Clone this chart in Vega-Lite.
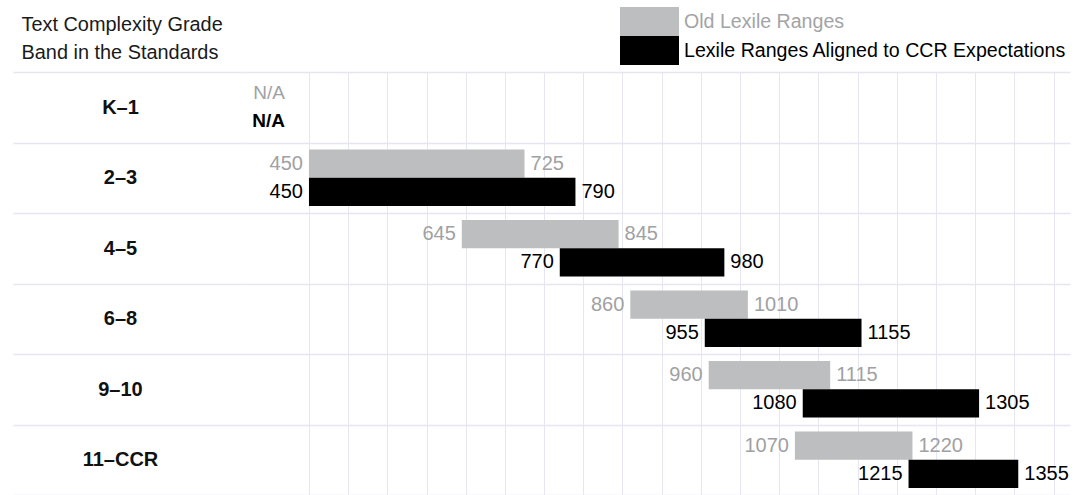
{
  "$schema": "https://vega.github.io/schema/vega-lite/v6.json",
  "autosize": {"type": "none"},
  "padding": {"left": 240, "top": 72, "right": 9, "bottom": 0},
  "width": 830,
  "height": 423,
  "background": "white",
  "config": {
    "view": {"stroke": null},
    "font": "Liberation Sans"
  },
  "data": {
    "values": [
      {"grade": "K–1", "series": "Old Lexile Ranges", "start": null, "end": null},
      {"grade": "K–1", "series": "Lexile Ranges Aligned to CCR Expectations", "start": null, "end": null},
      {"grade": "2–3", "series": "Old Lexile Ranges", "start": 450, "end": 725},
      {"grade": "2–3", "series": "Lexile Ranges Aligned to CCR Expectations", "start": 450, "end": 790},
      {"grade": "4–5", "series": "Old Lexile Ranges", "start": 645, "end": 845},
      {"grade": "4–5", "series": "Lexile Ranges Aligned to CCR Expectations", "start": 770, "end": 980},
      {"grade": "6–8", "series": "Old Lexile Ranges", "start": 860, "end": 1010},
      {"grade": "6–8", "series": "Lexile Ranges Aligned to CCR Expectations", "start": 955, "end": 1155},
      {"grade": "9–10", "series": "Old Lexile Ranges", "start": 960, "end": 1115},
      {"grade": "9–10", "series": "Lexile Ranges Aligned to CCR Expectations", "start": 1080, "end": 1305},
      {"grade": "11–CCR", "series": "Old Lexile Ranges", "start": 1070, "end": 1220},
      {"grade": "11–CCR", "series": "Lexile Ranges Aligned to CCR Expectations", "start": 1215, "end": 1355}
    ]
  },
  "encoding": {
    "y": {
      "field": "grade",
      "type": "nominal",
      "sort": null,
      "scale": {"domain": ["K–1", "2–3", "4–5", "6–8", "9–10", "11–CCR"], "paddingInner": 0, "paddingOuter": 0},
      "axis": {
        "title": ["Text Complexity Grade", "Band in the Standards"],
        "titleAngle": 0,
        "titleAlign": "left",
        "titleBaseline": "top",
        "titleX": -219,
        "titleY": -58,
        "titleFont": "Liberation Sans",
        "titleFontSize": 19.9,
        "titleFontWeight": "normal",
        "titleLineHeight": 28.5,
        "titleColor": "#1a1a1a",
        "domain": false,
        "tickBand": "extent",
        "tickSize": 227,
        "tickColor": "#e6e6f3",
        "tickWidth": 1.5,
        "grid": true,
        "gridColor": "#e6e6f3",
        "gridWidth": 1.5,
        "labelAlign": "center",
        "labelBaseline": "middle",
        "labelPadding": -107,
        "labelFont": "Liberation Sans",
        "labelFontSize": 20,
        "labelFontWeight": "bold",
        "labelColor": "#111111"
      }
    },
    "yOffset": {
      "field": "series",
      "type": "nominal",
      "sort": ["Old Lexile Ranges", "Lexile Ranges Aligned to CCR Expectations"],
      "scale": {"paddingInner": 0, "paddingOuter": 0.25}
    }
  },
  "layer": [
    {
      "mark": {"type": "bar"},
      "encoding": {
        "x": {
          "field": "start",
          "type": "quantitative",
          "scale": {"domain": [362, 1421], "nice": false, "zero": false},
          "axis": {
            "values": [450, 500, 550, 600, 650, 700, 750, 800, 850, 900, 950, 1000, 1050, 1100, 1150, 1200, 1250, 1300, 1350, 1400],
            "title": null,
            "labels": false,
            "ticks": false,
            "domain": false,
            "grid": true,
            "gridColor": "#e6e6f3",
            "gridWidth": 1
          }
        },
        "x2": {"field": "end"},
        "color": {
          "field": "series",
          "type": "nominal",
          "sort": ["Old Lexile Ranges", "Lexile Ranges Aligned to CCR Expectations"],
          "scale": {
            "domain": ["Old Lexile Ranges", "Lexile Ranges Aligned to CCR Expectations"],
            "range": ["#bdbec0", "#000000"]
          },
          "legend": {
            "title": null,
            "orient": "none",
            "legendX": 380,
            "legendY": -65,
            "symbolType": "M-1,-0.5H1V0.5H-1Z",
            "symbolSize": 3481,
            "symbolStrokeWidth": 0,
            "symbolOpacity": 1,
            "rowPadding": 0,
            "clipHeight": 29,
            "labelFont": "Liberation Sans",
            "labelFontSize": 19.6,
            "labelOffset": 5,
            "labelLimit": 600,
            "encode": {
              "labels": {
                "update": {
                  "fill": {"signal": "datum.value === 'Old Lexile Ranges' ? '#a3a4a6' : '#000000'"}
                }
              }
            }
          }
        }
      }
    },
    {
      "transform": [{"filter": "isValid(datum.start)"}],
      "mark": {"type": "text", "align": "right", "baseline": "middle", "dx": -6, "fontSize": 20, "font": "Liberation Sans"},
      "encoding": {
        "x": {"field": "start", "type": "quantitative"},
        "text": {"field": "start", "type": "quantitative", "format": "d"},
        "color": {
          "condition": {"test": "datum.series === 'Old Lexile Ranges'", "value": "#a0a1a3"},
          "value": "#000000"
        }
      }
    },
    {
      "transform": [{"filter": "isValid(datum.end)"}],
      "mark": {"type": "text", "align": "left", "baseline": "middle", "dx": 6, "fontSize": 20, "font": "Liberation Sans"},
      "encoding": {
        "x": {"field": "end", "type": "quantitative"},
        "text": {"field": "end", "type": "quantitative", "format": "d"},
        "color": {
          "condition": {"test": "datum.series === 'Old Lexile Ranges'", "value": "#a0a1a3"},
          "value": "#000000"
        }
      }
    },
    {
      "transform": [{"filter": "!isValid(datum.start) && datum.series === 'Old Lexile Ranges'"}],
      "mark": {"type": "text", "align": "right", "baseline": "middle", "dx": -24, "fontSize": 19, "font": "Liberation Sans", "text": "N/A", "color": "#a0a1a3"},
      "encoding": {
        "x": {"datum": 450, "type": "quantitative"}
      }
    },
    {
      "transform": [{"filter": "!isValid(datum.start) && datum.series !== 'Old Lexile Ranges'"}],
      "mark": {"type": "text", "align": "right", "baseline": "middle", "dx": -24, "fontSize": 19, "font": "Liberation Sans", "fontWeight": "bold", "text": "N/A", "color": "#000000"},
      "encoding": {
        "x": {"datum": 450, "type": "quantitative"}
      }
    }
  ]
}
